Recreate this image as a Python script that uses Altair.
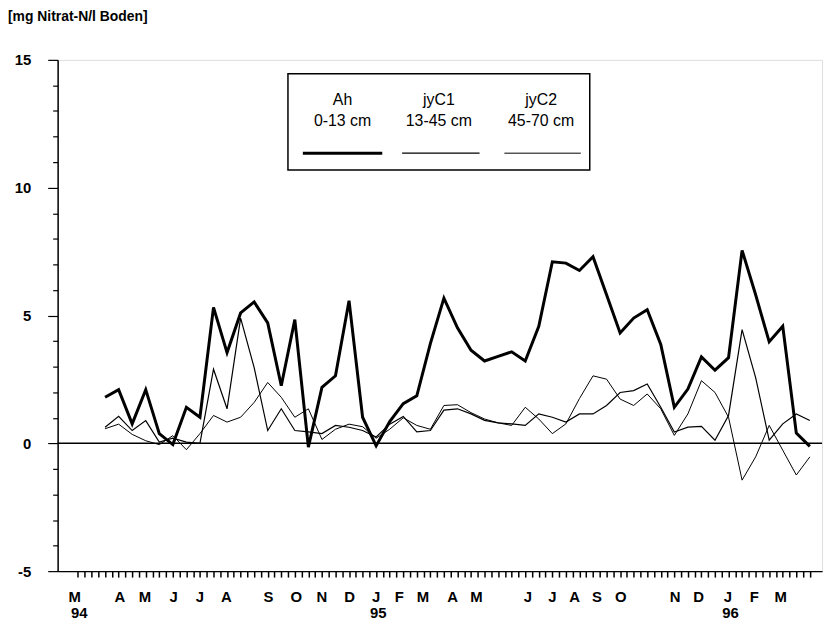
import altair as alt
import pandas as pd

# sampling dates as week numbers (roughly every 2 weeks, March 1994 - March 1996)
weeks = [7 + 2 * i for i in range(53)]

ah = [1.80, 2.10, 0.76, 2.10, 0.38, -0.05, 1.41, 1.02, 5.32, 3.55,
      5.10, 5.53, 4.71, 2.25, 4.84, -0.15, 2.19, 2.64, 5.58, 1.02,
      -0.10, 0.85, 1.55, 1.86, 3.90, 5.68, 4.52, 3.64, 3.22, 3.40,
      3.58, 3.22, 4.58, 7.10, 7.05, 6.76, 7.30, 5.81, 4.32, 4.90,
      5.23, 3.87, 1.41, 2.12, 3.38, 2.86, 3.35, 7.55, 5.81, 3.97,
      4.58, 0.40, -0.12]

jyc1 = [0.63, 1.06, 0.50, 0.89, 0.05, 0.20, 0.05, 0.00, 2.90, 1.35,
        4.90, 2.96, 0.50, 1.35, 0.50, 0.45, 0.38, 0.70, 0.63, 0.50,
        0.25, 0.75, 1.05, 0.45, 0.50, 1.30, 1.35, 1.15, 0.90, 0.80,
        0.76, 0.70, 1.15, 1.02, 0.83, 1.15, 1.15, 1.48, 1.99, 2.06,
        2.32, 1.41, 0.44, 0.63, 0.66, 0.12, 1.09, 4.45, 2.57, 0.12,
        0.76, 1.15, 0.89]

jyc2 = [0.57, 0.75, 0.35, 0.10, -0.05, 0.30, -0.25, 0.38, 1.09, 0.83,
        1.02, 1.60, 2.38, 1.80, 1.02, 1.35, 0.15, 0.55, 0.75, 0.65,
        0.20, 0.55, 1.00, 0.70, 0.55, 1.48, 1.51, 1.20, 0.95, 0.80,
        0.70, 1.41, 0.95, 0.38, 0.76, 1.75, 2.64, 2.51, 1.73, 1.48,
        1.93, 1.35, 0.31, 1.15, 2.45, 1.99, 1.02, -1.44, -0.53, 0.70,
        -0.27, -1.24, -0.53]

month_labels = ["M", "A", "M", "J", "J", "A", "S", "O", "N", "D", "J", "F", "M",
                "A", "M", "J", "J", "A", "S", "O", "N", "D", "J", "F", "M"]
month_pos = [2.5, 9.2, 12.9, 17.1, 21.0, 24.9, 31.1, 35.2, 39.0, 43.1, 47.0, 50.4, 53.9,
             58.3, 61.8, 69.4, 73.0, 76.3, 79.6, 83.1, 91.1, 94.6, 98.9, 102.8, 106.7]
year_labels = ["94", "95", "96"]
year_pos = [3.2, 47.3, 99.3]

major_y = [-5, 0, 5, 10, 15]
minor_y = [v for v in range(-5, 16) if v % 5 != 0]
week_ticks = list(range(3, 112))

series_names = ["Ah", "jyC1", "jyC2"]
series_depths = ["0-13 cm", "13-45 cm", "45-70 cm"]
y_title = "[mg Nitrat-N/l Boden]"

W, H = 770, 515
FONT = "Liberation Sans"

rows = []
for name, vals in zip(series_names, [ah, jyc1, jyc2]):
    for w, v in zip(weeks, vals):
        rows.append({"week": w, "value": v, "series": name})
df = pd.DataFrame(rows)

xscale = alt.Scale(domain=[0, 112.8], nice=False, zero=False)
yscale = alt.Scale(domain=[-5, 15], nice=False, zero=False)

xaxis = alt.Axis(values=week_ticks, labels=False, tickSize=6, grid=False,
                 title=None, domainColor="black", tickColor="black",
                 domainWidth=1.2, tickWidth=1.5)
yaxis = alt.Axis(values=major_y, grid=False, title=None, tickSize=10, orient="left",
                 labelExpr="datum.value < 0 ? '-' + (-datum.value) : '' + datum.value",
                 labelPadding=17, labelFont=FONT, labelFontSize=15, labelFontWeight="bold",
                 labelColor="black", domainColor="black", tickColor="black",
                 domainWidth=1.5, tickWidth=1.2)
yaxis_minor = alt.Axis(values=minor_y, grid=False, title=None, tickSize=5, orient="left",
                       labels=False, domain=False, tickColor="black", tickWidth=1.2)

widths = {"Ah": 3.0, "jyC1": 1.2, "jyC2": 1.0}

layers = []
# zero line (carries the main y axis)
layers.append(alt.Chart(pd.DataFrame({"y": [0]})).mark_rule(color="black", strokeWidth=1.5)
              .encode(y=alt.Y("y:Q", scale=yscale, axis=yaxis)))

# minor tick axis
layers.append(
    alt.Chart(pd.DataFrame({"v": [0]}))
    .mark_point(opacity=0)
    .encode(y=alt.Y("v:Q", scale=yscale, axis=yaxis_minor), x=alt.value(0))
)

for name in ["jyC2", "jyC1", "Ah"]:
    layers.append(
        alt.Chart(df).transform_filter(alt.datum.series == name)
        .mark_line(color="black", strokeWidth=widths[name], strokeJoin="miter")
        .encode(x=alt.X("week:Q", scale=xscale, axis=xaxis),
                y=alt.Y("value:Q", scale=yscale, axis=None))
    )

# month and year labels below axis
layers.append(
    alt.Chart(pd.DataFrame({"pos": month_pos, "lab": month_labels}))
    .mark_text(font=FONT, fontSize=15, fontWeight="bold", color="black", baseline="middle")
    .encode(x=alt.X("pos:Q", scale=xscale, axis=xaxis), y=alt.value(H + 26), text="lab:N")
)
layers.append(
    alt.Chart(pd.DataFrame({"pos": year_pos, "lab": year_labels}))
    .mark_text(font=FONT, fontSize=15, fontWeight="bold", color="black", baseline="middle")
    .encode(x=alt.X("pos:Q", scale=xscale, axis=xaxis), y=alt.value(H + 42), text="lab:N")
)

# y title
layers.append(
    alt.Chart(pd.DataFrame({"t": [y_title]}))
    .mark_text(font=FONT, fontSize=14, fontWeight="bold", color="black", align="left", baseline="middle")
    .encode(x=alt.value(-50), y=alt.value(-43), text="t:N")
)

# legend box
layers.append(
    alt.Chart(pd.DataFrame({"a": [0]}))
    .mark_rect(fill="white", stroke="black", strokeWidth=1.5)
    .encode(x=alt.value(232), x2=alt.value(536), y=alt.value(14), y2=alt.value(111))
)
centers = [287, 384, 487]
spans = [(247, 327), (347, 425), (450, 527)]
for name, depth, cx, (a, b) in zip(series_names, series_depths, centers, spans):
    layers.append(
        alt.Chart(pd.DataFrame({"t": [name]}))
        .mark_text(font=FONT, fontSize=16, color="black", baseline="middle")
        .encode(x=alt.value(cx), y=alt.value(40), text="t:N")
    )
    layers.append(
        alt.Chart(pd.DataFrame({"t": [depth]}))
        .mark_text(font=FONT, fontSize=16, color="black", baseline="middle")
        .encode(x=alt.value(cx), y=alt.value(62), text="t:N")
    )
    layers.append(
        alt.Chart(pd.DataFrame({"t": [name]}))
        .mark_rule(color="black", strokeWidth=widths[name])
        .encode(x=alt.value(a), x2=alt.value(b), y=alt.value(94))
    )

chart = (
    alt.layer(*layers)
    .resolve_axis(y="independent")
    .properties(width=W, height=H, autosize=alt.AutoSizeParams(type="none"),
                padding={"left": 50, "top": 50, "right": 8, "bottom": 50})
    .configure_view(stroke=None)
    .configure(background="white")
)

chart.save("out.html", embed_options={"renderer": "svg", "actions": False})
